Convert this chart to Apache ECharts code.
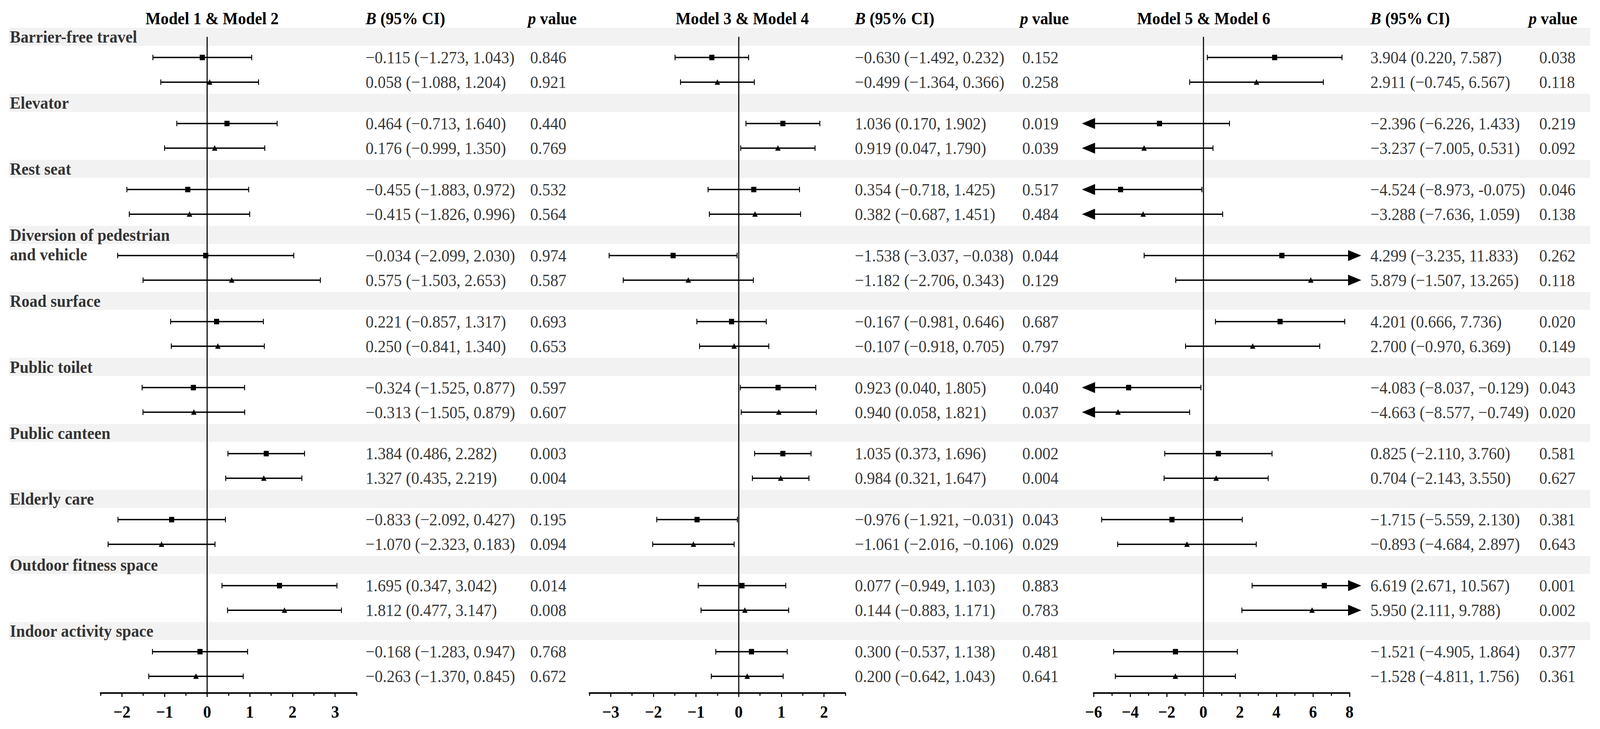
<!DOCTYPE html>
<html><head><meta charset="utf-8">
<script src="https://cdn.jsdelivr.net/npm/echarts@6/dist/echarts.min.js"></script>
<style>html,body{margin:0;padding:0;overflow:hidden;background:#fff}#c{width:4376px;height:1865px;transform-origin:0 0}</style>
</head><body><div id="c"></div>
<script>
// ---------------- DATA ----------------
const categories = ['Barrier-free travel','Elevator','Rest seat','Diversion of pedestrian\nand vehicle','Road surface','Public toilet','Public canteen','Elderly care','Outdoor fitness space','Indoor activity space'];
const panelTitles = ['Model 1 & Model 2','Model 3 & Model 4','Model 5 & Model 6'];
// each row: [B, lower 95% CI, upper 95% CI, p]
const model1 = [[-0.115,-1.273,1.043,0.846],[0.464,-0.713,1.640,0.440],[-0.455,-1.883,0.972,0.532],[-0.034,-2.099,2.030,0.974],[0.221,-0.857,1.317,0.693],[-0.324,-1.525,0.877,0.597],[1.384,0.486,2.282,0.003],[-0.833,-2.092,0.427,0.195],[1.695,0.347,3.042,0.014],[-0.168,-1.283,0.947,0.768]];
const model2 = [[0.058,-1.088,1.204,0.921],[0.176,-0.999,1.350,0.769],[-0.415,-1.826,0.996,0.564],[0.575,-1.503,2.653,0.587],[0.250,-0.841,1.340,0.653],[-0.313,-1.505,0.879,0.607],[1.327,0.435,2.219,0.004],[-1.070,-2.323,0.183,0.094],[1.812,0.477,3.147,0.008],[-0.263,-1.370,0.845,0.672]];
const model3 = [[-0.630,-1.492,0.232,0.152],[1.036,0.170,1.902,0.019],[0.354,-0.718,1.425,0.517],[-1.538,-3.037,-0.038,0.044],[-0.167,-0.981,0.646,0.687],[0.923,0.040,1.805,0.040],[1.035,0.373,1.696,0.002],[-0.976,-1.921,-0.031,0.043],[0.077,-0.949,1.103,0.883],[0.300,-0.537,1.138,0.481]];
const model4 = [[-0.499,-1.364,0.366,0.258],[0.919,0.047,1.790,0.039],[0.382,-0.687,1.451,0.484],[-1.182,-2.706,0.343,0.129],[-0.107,-0.918,0.705,0.797],[0.940,0.058,1.821,0.037],[0.984,0.321,1.647,0.004],[-1.061,-2.016,-0.106,0.029],[0.144,-0.883,1.171,0.783],[0.200,-0.642,1.043,0.641]];
const model5 = [[3.904,0.220,7.587,0.038],[-2.396,-6.226,1.433,0.219],[-4.524,-8.973,-0.075,0.046],[4.299,-3.235,11.833,0.262],[4.201,0.666,7.736,0.020],[-4.083,-8.037,-0.129,0.043],[0.825,-2.110,3.760,0.581],[-1.715,-5.559,2.130,0.381],[6.619,2.671,10.567,0.001],[-1.521,-4.905,1.864,0.377]];
const model6 = [[2.911,-0.745,6.567,0.118],[-3.237,-7.005,0.531,0.092],[-3.288,-7.636,1.059,0.138],[5.879,-1.507,13.265,0.118],[2.700,-0.970,6.369,0.149],[-4.663,-8.577,-0.749,0.020],[0.704,-2.143,3.550,0.627],[-0.893,-4.684,2.897,0.643],[5.950,2.111,9.788,0.002],[-1.528,-4.811,1.756,0.361]];
// cells printed with a plain hyphen in the source table: [model index, category index]
const hyphenUpperCells = [[4,2]];
// axes
const axisRanges = [[-2.5,3.5],[-3.5,2.5],[-6,8]];
const majorTicks = [[-2,-1,0,1,2,3],[-3,-2,-1,0,1,2],[-6,-4,-2,0,2,4,6,8]];
const minorTicks = [[-2.5,-1.5,-0.5,0.5,1.5,2.5,3.5],[-3.5,-2.5,-1.5,-0.5,0.5,1.5,2.5],[-5,-3,-1,1,3,5,7]];

// ---------------- LAYOUT ----------------
const W = 4376, H = 1865;
const FONT = "'Liberation Serif','Times New Roman',Times,serif";
const FS = 44;
const TOP = 66, BOTTOM = 92, YMIN = -0.5, YMAX = 29.82;
const GROUP = 3, ROW_OFF = [0.94, 2.06], BAND_HALF = 0.41;
const panelLayout = [
  {forestLeft:275, bLeft:1000, pLeft:1450, pHead:1444, titleX:580},
  {forestLeft:1612, bLeft:2338, pLeft:2796, pHead:2790, titleX:2030},
  {forestLeft:2991, bLeft:3748, pLeft:4210, pHead:4181, titleX:3292}
];
const FOREST_W = 700;
const models = [model1, model2, model3, model4, model5, model6];

function fmt(v, hyphen){ const s = Math.abs(v).toFixed(3); return v < 0 ? (hyphen ? '-' : '\u2212') + s : s; }
function isHyphen(m,k){ return hyphenUpperCells.some(c => c[0]===m && c[1]===k); }

const grids = [], xAxes = [], yAxes = [], series = [];
function addGrid(g, xa){
  grids.push(Object.assign({containLabel:false, top:TOP, bottom:BOTTOM}, g));
  const gi = grids.length - 1;
  yAxes.push({gridIndex:gi, type:'value', inverse:true, min:YMIN, max:YMAX, show:false});
  const xi = xAxes.length;
  xAxes.push(Object.assign({gridIndex:gi}, xa || {type:'value', min:0, max:1, show:false}));
  return {gi, xi, yi:gi};
}

// background bands
const bg = addGrid({left:25, right:27});
series.push({type:'custom', xAxisIndex:bg.xi, yAxisIndex:bg.yi, z:0, silent:true,
  data: categories.map((c,k)=>[0, k*GROUP]),
  renderItem(params, api){
    const cs = params.coordSys;
    const y0 = api.coord([0, api.value(1)-BAND_HALF])[1];
    const y1 = api.coord([0, api.value(1)+BAND_HALF])[1];
    return {type:'rect', shape:{x:cs.x, y:y0, width:cs.width, height:y1-y0}, style:{fill:'#f2f2f2'}};
  }});

// category labels
const lab = addGrid({left:27, width:10});
series.push({type:'scatter', xAxisIndex:lab.xi, yAxisIndex:lab.yi, symbolSize:0, silent:true, z:5,
  data: categories.map((c,k)=>({name:c, value:[0, k*GROUP]})),
  label:{show:true, position:'right', distance:0, formatter:'{b}', align:'left', verticalAlign:'top',
    offset:[0,-25], lineHeight:50, fontFamily:FONT, fontWeight:'bold', fontSize:FS, color:'#000'}});

function renderForest(params, api){
  const est = api.value(0), lo = api.value(1), hi = api.value(2), yv = api.value(3), shp = api.value(4);
  const cs = params.coordSys;
  const xMin = cs.x, xMax = cs.x + cs.width;
  const y = api.coord([0, yv])[1];
  const px = v => api.coord([v, yv])[0];
  const xl = px(lo), xh = px(hi), xe = px(est);
  const leftClip = xl < xMin - 0.5, rightClip = xh > xMax + 0.5;
  const a = Math.max(xl, xMin), b = Math.min(xh, xMax);
  const col = '#000';
  const ch = [];
  ch.push({type:'line', shape:{x1:a, y1:y, x2:b, y2:y}, style:{stroke:col, lineWidth:3.5}});
  if (leftClip) ch.push({type:'polygon', shape:{points:[[a+4,y-14],[a+4,y+14],[a-32,y]]}, style:{fill:col}});
  else ch.push({type:'line', shape:{x1:a, y1:y-7, x2:a, y2:y+7}, style:{stroke:col, lineWidth:2.5}});
  if (rightClip) ch.push({type:'polygon', shape:{points:[[b-4,y-14],[b-4,y+14],[b+32,y]]}, style:{fill:col}});
  else ch.push({type:'line', shape:{x1:b, y1:y-7, x2:b, y2:y+7}, style:{stroke:col, lineWidth:2.5}});
  if (shp === 0) ch.push({type:'rect', shape:{x:xe-7, y:y-7, width:14, height:14}, style:{fill:col}});
  else ch.push({type:'polygon', shape:{points:[[xe,y-7.5],[xe-7.5,y+6.5],[xe+7.5,y+6.5]]}, style:{fill:col}});
  return {type:'group', children:ch};
}

const axFmt = v => (v < 0 ? '\u2212' + Math.abs(v) : String(v));
const graphics = [];

panelLayout.forEach((L, p) => {
  const [mn, mx] = axisRanges[p];
  // minor-tick grid (same box as the forest grid)
  addGrid({left:L.forestLeft, width:FOREST_W},
    {type:'value', min:mn, max:mx, position:'bottom',
      axisLine:{show:false, onZero:false},
      axisTick:{show:true, customValues:minorTicks[p], length:7, lineStyle:{color:'#000', width:3}},
      axisLabel:{show:false}, splitLine:{show:false}});
  const fg = addGrid({left:L.forestLeft, width:FOREST_W},
    {type:'value', min:mn, max:mx, position:'bottom',
      axisLine:{show:true, onZero:false, lineStyle:{color:'#000', width:4}},
      axisTick:{show:true, customValues:majorTicks[p], length:10, lineStyle:{color:'#000', width:3}},
      axisLabel:{show:true, customValues:majorTicks[p], formatter:axFmt, margin:26, fontFamily:FONT, fontWeight:'bold', fontSize:FS, color:'#000'},
      splitLine:{show:false}});
  const rows = [];
  [0,1].forEach(j => {
    const m = models[p*2 + j];
    m.forEach((r,k) => rows.push([r[0], r[1], r[2], k*GROUP + ROW_OFF[j], j]));
  });
  series.push({type:'custom', xAxisIndex:fg.xi, yAxisIndex:fg.yi, clip:false, silent:true, z:3,
    encode:{x:[0,1,2], y:3},
    data: rows, renderItem: renderForest,
    markLine:{silent:true, symbol:['none','none'], label:{show:false},
      lineStyle:{color:'#000', width:3, type:'solid'},
      data:[[{coord:[0, 0]}, {coord:[0, YMAX]}]]}});

  const bgd = addGrid({left:L.bLeft, width:10});
  const pgd = addGrid({left:L.pLeft, width:10});
  const bData = [], pData = [];
  [0,1].forEach(j => {
    const mi = p*2 + j, m = models[mi];
    m.forEach((r,k) => {
      const y = k*GROUP + ROW_OFF[j];
      bData.push({name: fmt(r[0]) + ' (' + fmt(r[1]) + ', ' + fmt(r[2], isHyphen(mi,k)) + ')', value:[0,y]});
      pData.push({name: r[3].toFixed(3), value:[0,y]});
    });
  });
  const txtLabel = {show:true, position:'right', distance:0, formatter:'{b}', align:'left', verticalAlign:'middle',
    fontFamily:FONT, fontSize:FS, color:'#000'};
  series.push({type:'scatter', xAxisIndex:bgd.xi, yAxisIndex:bgd.yi, symbolSize:0, silent:true, z:5, data:bData, label:txtLabel});
  series.push({type:'scatter', xAxisIndex:pgd.xi, yAxisIndex:pgd.yi, symbolSize:0, silent:true, z:5, data:pData, label:txtLabel});

  const richBase = {fontFamily:FONT, fontSize:FS, fontWeight:'bold', fill:'#000'};
  graphics.push({type:'text', x:L.titleX, y:47, silent:true,
    style:Object.assign({text:panelTitles[p], align:'center', verticalAlign:'middle'}, richBase)});
  graphics.push({type:'text', x:L.bLeft, y:47, silent:true,
    style:Object.assign({text:'{bi|B}{n| (95% CI)}', align:'left', verticalAlign:'middle',
      rich:{bi:Object.assign({}, richBase, {fontStyle:'italic'}), n:Object.assign({}, richBase)}}, richBase)});
  graphics.push({type:'text', x:L.pHead, y:47, silent:true,
    style:Object.assign({text:'{bi|p}{n| value}', align:'left', verticalAlign:'middle',
      rich:{bi:Object.assign({}, richBase, {fontStyle:'italic'}), n:Object.assign({}, richBase)}}, richBase)});
});

// The page is drawn at the reference size and fitted into the actual window.
const dom = document.getElementById('c');
const sx = Math.min(1, (window.innerWidth || W) / W), sy = Math.min(1, (window.innerHeight || H) / H);
if (sx < 1 || sy < 1) dom.style.transform = 'scale(' + sx + ',' + sy + ')';

const chart = echarts.init(dom, null, {renderer:'svg', width:W, height:H});
chart.setOption({
  backgroundColor:'#fff', animation:false,
  grid:grids, xAxis:xAxes, yAxis:yAxes, series:series, graphic:graphics
});
</script></body></html>
